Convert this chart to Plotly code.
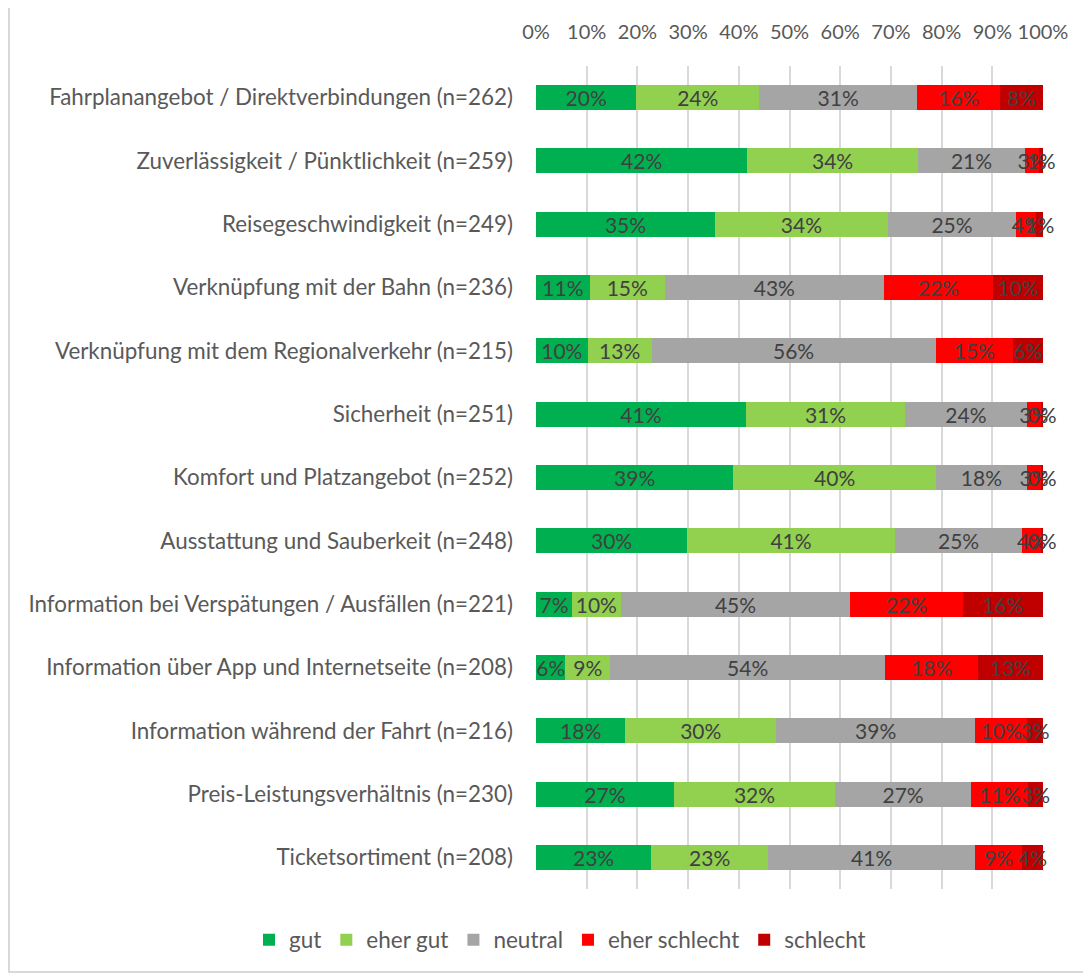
import plotly.graph_objects as go

categories = [
    "Fahrplanangebot / Direktverbindungen (n=262)",
    "Zuverlässigkeit / Pünktlichkeit (n=259)",
    "Reisegeschwindigkeit (n=249)",
    "Verknüpfung mit der Bahn (n=236)",
    "Verknüpfung mit dem Regionalverkehr (n=215)",
    "Sicherheit (n=251)",
    "Komfort und Platzangebot (n=252)",
    "Ausstattung und Sauberkeit (n=248)",
    "Information bei Verspätungen / Ausfällen (n=221)",
    "Information über App und Internetseite (n=208)",
    "Information während der Fahrt (n=216)",
    "Preis-Leistungsverhältnis (n=230)",
    "Ticketsortiment (n=208)",
]

gut = [19.8, 41.7, 35.3, 10.6, 10.2, 41.4, 38.9, 29.8, 7.1, 5.8, 17.6, 27.2, 22.7]
eher_gut = [24.2, 33.6, 34.1, 14.8, 12.6, 31.4, 40.0, 41.0, 9.6, 8.8, 29.8, 31.8, 23.1]
neutral = [31.2, 21.2, 25.3, 43.2, 56.0, 24.0, 17.9, 25.1, 45.3, 54.3, 39.2, 26.8, 40.8]
eher_schlecht = [16.4, 2.7, 4.0, 21.6, 15.3, 2.8, 2.9, 3.7, 22.2, 18.3, 10.3, 11.3, 9.3]
schlecht = [8.4, 0.8, 1.3, 9.8, 5.9, 0.4, 0.3, 0.4, 15.8, 12.8, 3.1, 2.9, 4.1]

series = [
    ("gut", gut, "#00b050"),
    ("eher gut", eher_gut, "#92d050"),
    ("neutral", neutral, "#a5a5a5"),
    ("eher schlecht", eher_schlecht, "#ff0000"),
    ("schlecht", schlecht, "#c00000"),
]

tick_vals = [0, 10, 20, 30, 40, 50, 60, 70, 80, 90, 100]
tick_text = [f"{v}%" for v in tick_vals]

FONT = "Lato"
fig = go.Figure()
for name, vals, color in series:
    fig.add_trace(go.Bar(
        y=categories, x=vals, name=name, orientation="h",
        marker=dict(color=color, line=dict(width=0)),
        text=[f"{round(v):d}%" for v in vals],
        textposition="inside", insidetextanchor="middle", textangle=0,
        constraintext="none", cliponaxis=False,
        textfont=dict(family=FONT, size=21, color="#404040"),
        hoverinfo="skip",
    ))

OFF = 8  # page body margin
W, H = 1091 - OFF, 973 - OFF
L, R, T, B = 536 - OFF, 1043 - OFF, 66 - OFF, 889 - OFF
pw, ph = R - L, B - T
def px(p): return (p - OFF - L) / pw
def py(q): return (B - (q - OFF)) / ph

fig.update_layout(
    width=W, height=H, barmode="stack", bargap=0.605,
    paper_bgcolor="white", plot_bgcolor="white",
    margin=dict(l=L, r=W - R, t=T, b=H - B, pad=0),
    font=dict(family=FONT, size=18, color="#595959"),
    xaxis=dict(side="top", range=[0, 100.001], tickvals=tick_vals,
               ticktext=tick_text, showgrid=True, gridcolor="#d9d9d9", gridwidth=2,
               zeroline=False, showline=False, ticks="", ticklabelstandoff=22,
               tickfont=dict(family=FONT, size=20, color="#595959")),
    yaxis=dict(autorange="reversed", showgrid=False, zeroline=False, showline=False,
               ticks="", ticklabelstandoff=22,
               tickfont=dict(family=FONT, size=22.4, color="#595959")),
    legend=dict(orientation="h", x=px(249), xanchor="left", y=py(940), yanchor="middle",
                font=dict(family=FONT, size=22.5, color="#595959"), traceorder="normal",
                itemwidth=30),
    shapes=[dict(type="rect", xref="paper", yref="paper",
                 x0=px(9), x1=px(1085), y0=py(972), y1=py(5),
                 line=dict(color="#d9d9d9", width=2), layer="below")],
)

fig.write_html("out.html")
